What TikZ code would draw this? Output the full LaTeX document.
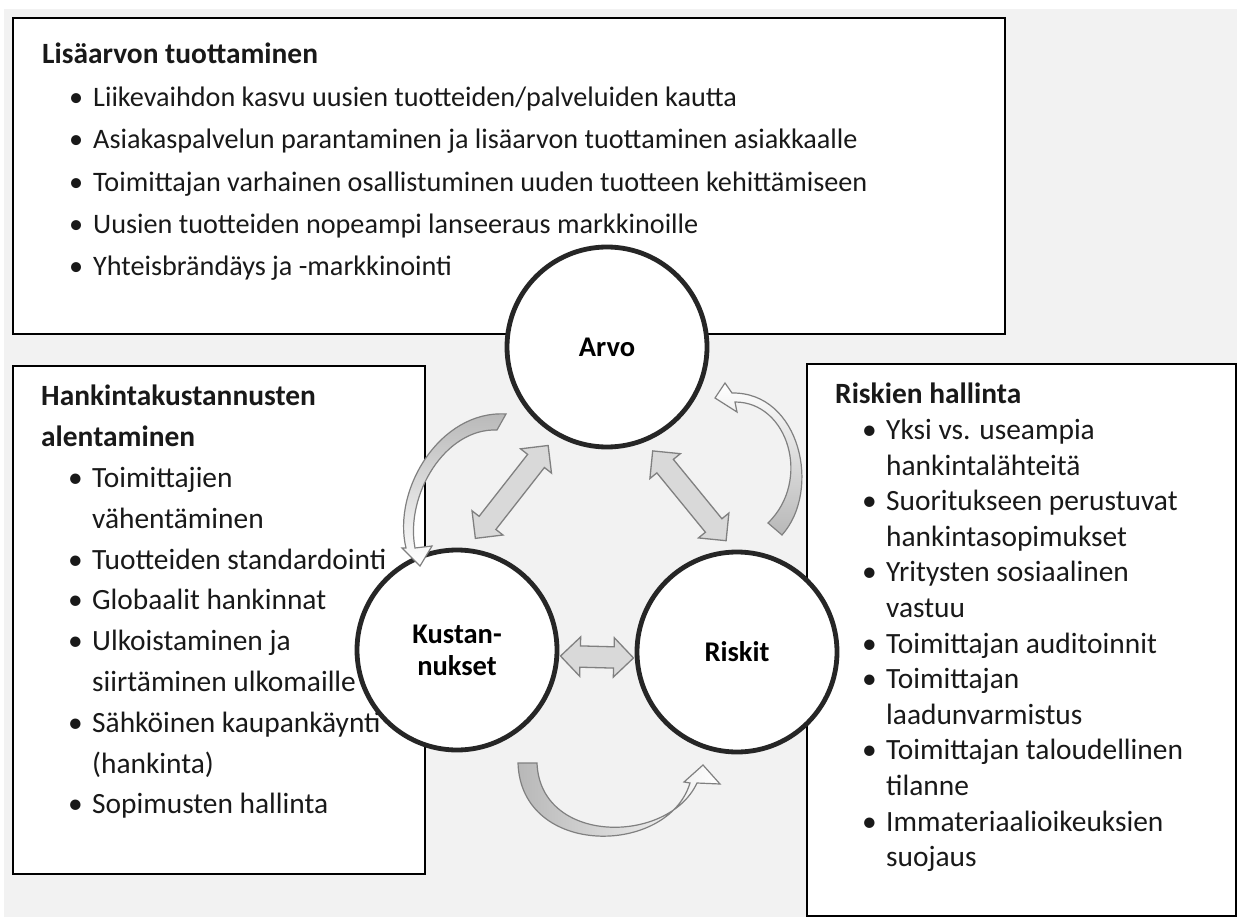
\documentclass[tikz,border=0pt]{standalone}
\usepackage{fontspec}
\setmainfont{Carlito}
\usetikzlibrary{calc,shapes.arrows}

\definecolor{tausta}{RGB}{242,242,242}
\definecolor{reuna}{RGB}{38,38,38}
\definecolor{nuolireuna}{RGB}{128,128,128}

\newcommand{\kohta}[1]{\hspace*{27pt}\makebox[24pt][l]{\textbullet}#1}
\newcommand{\jatko}[1]{\hspace*{51pt}#1}
\newcommand{\otsikko}[1]{{\bfseries\fontsize{29.4}{\baselineskip}\selectfont #1}}

\tikzset{
  laatikko/.style={draw=black, line width=2pt, fill=white, inner sep=0pt, anchor=north west},
  teksti/.style={anchor=north west, inner sep=0pt, align=left, text=black!90},
  ympyra/.style={circle, draw=reuna, line width=4.8pt, fill=white, minimum size=200pt,
    align=center, font=\bfseries\fontsize{28.5}{32}\selectfont},
  kaksoisnuoli/.style={double arrow, draw=nuolireuna, fill=black!15, line width=1.3pt,
    inner xsep=0pt, inner ysep=10pt, double arrow head extend=9pt, sloped},
  kaari/.style={draw=nuolireuna, line width=1.2pt}
}

\begin{document}
\begin{tikzpicture}[x=1pt, y=-1pt]
  % 背景
  \useasboundingbox (0,0) rectangle (1237,917);
  \fill[tausta] (4,9) rectangle (1237,917);

  % 三个框
  \node[laatikko, minimum width=992pt, minimum height=316pt] (lisaarvo) at (12,17) {};
  \node[laatikko, minimum width=412pt, minimum height=508pt] (hankinta) at (12,365) {};
  \node[laatikko, minimum width=429pt, minimum height=552pt] (riskienhallinta) at (806,363) {};

  % 框内文字
  \node[teksti, font=\fontsize{28.2}{42.4}\selectfont] (lisaarvoteksti)
    at ([xshift=30pt,yshift=-26pt]lisaarvo.north west)
    {\otsikko{Lisäarvon tuottaminen}\\
     \kohta{Liikevaihdon kasvu uusien tuotteiden/palveluiden kautta}\\
     \kohta{Asiakaspalvelun parantaminen ja lisäarvon tuottaminen asiakkaalle}\\
     \kohta{Toimittajan varhainen osallistuminen uuden tuotteen kehittämiseen}\\
     \kohta{Uusien tuotteiden nopeampi lanseeraus markkinoille}\\
     \kohta{Yhteisbrändäys ja -markkinointi}};

  \node[teksti, font=\fontsize{29.4}{40.8}\selectfont] (hankintateksti)
    at ([xshift=29pt,yshift=-20pt]hankinta.north west)
    {\otsikko{Hankintakustannusten}\\
     \otsikko{alentaminen}\\
     \kohta{Toimittajien}\\
     \jatko{vähentäminen}\\
     \kohta{Tuotteiden standardointi}\\
     \kohta{Globaalit hankinnat}\\
     \kohta{Ulkoistaminen ja}\\
     \jatko{siirtäminen ulkomaille}\\
     \kohta{Sähköinen kaupankäynti}\\
     \jatko{(hankinta)}\\
     \kohta{Sopimusten hallinta}};

  \node[teksti, font=\fontsize{29.4}{35.6}\selectfont] (riskiteksti)
    at ([xshift=29pt,yshift=-20pt]riskienhallinta.north west)
    {\otsikko{Riskien hallinta}\\
     \kohta{Yksi vs. useampia}\\
     \jatko{hankintalähteitä}\\
     \kohta{Suoritukseen perustuvat}\\
     \jatko{hankintasopimukset}\\
     \kohta{Yritysten sosiaalinen}\\
     \jatko{vastuu}\\
     \kohta{Toimittajan auditoinnit}\\
     \kohta{Toimittajan}\\
     \jatko{laadunvarmistus}\\
     \kohta{Toimittajan taloudellinen}\\
     \jatko{tilanne}\\
     \kohta{Immateriaalioikeuksien}\\
     \jatko{suojaus}};

  % 三个圆
  \node[ympyra] (arvo) at (607,347) {Arvo};
  \node[ympyra] (kust) at (457,650) {Kustan-\\nukset};
  \node[ympyra] (riskit) at (737,652) {Riskit};

  % 弯箭头的端点
  \coordinate (k1s) at ($(arvo)+(-105,75)$);
  \coordinate (k1t) at ($(kust)+(-37,-84)$);
  \coordinate (k2s) at ($(riskit)+(38,-123)$);
  \coordinate (k2t) at ($(arvo)+(108,51)$);
  \coordinate (k3s) at ($(kust)+(70,113)$);
  \coordinate (k3t) at ($(riskit)+(-34,113)$);

  % 弯箭头
  \draw[kaari, top color=black!28, middle color=white, bottom color=white]
    ($(k1s)+(4,-8)$) .. controls +(-66,-4) and +(-14,-58) .. ($(k1t)+(-14,-18)$)
    -- ($(k1t)+(-18,-18)$) -- (k1t) -- ($(k1t)+(12,-20)$) -- ($(k1t)+(-5,-18)$)
    .. controls +(-10,-53) and +(-52,-2) .. ($(k1s)+(-5,8)$) -- cycle;
  \draw[kaari, bottom color=black!28, middle color=white, top color=white]
    ($(k2s)+(7,6)$) .. controls +(40,-45) and +(68,-1) .. ($(k2t)+(17,-5)$)
    -- ($(k2t)+(10,-15)$) -- (k2t) -- ($(k2t)+(22,14)$) -- ($(k2t)+(20,4)$)
    .. controls +(53,0) and +(44,-43) .. ($(k2s)+(-7,-6)$) -- cycle;
  \draw[kaari, left color=black!28, middle color=white, right color=white]
    ($(k3s)+(-9,0)$) .. controls +(3,95) and +(-22,73) .. ($(k3t)+(-13,18)$)
    -- ($(k3t)+(-19,17)$) -- (k3t) -- ($(k3t)+(17,19)$) -- ($(k3t)+(-6,18)$)
    .. controls +(-29,62) and +(3,82) .. ($(k3s)+(10,0)$) -- cycle;

  % 双向箭头
  \path (kust.84) -- (arvo.240) node[kaksoisnuoli, midway, minimum height=118pt] {};
  \path (arvo.292) -- (riskit.92) node[kaksoisnuoli, midway, minimum height=116pt] {};
  \path ([yshift=-6pt]kust.east) -- ([yshift=-6pt]riskit.west)
    node[kaksoisnuoli, midway, minimum height=73pt] {};
\end{tikzpicture}
\end{document}
